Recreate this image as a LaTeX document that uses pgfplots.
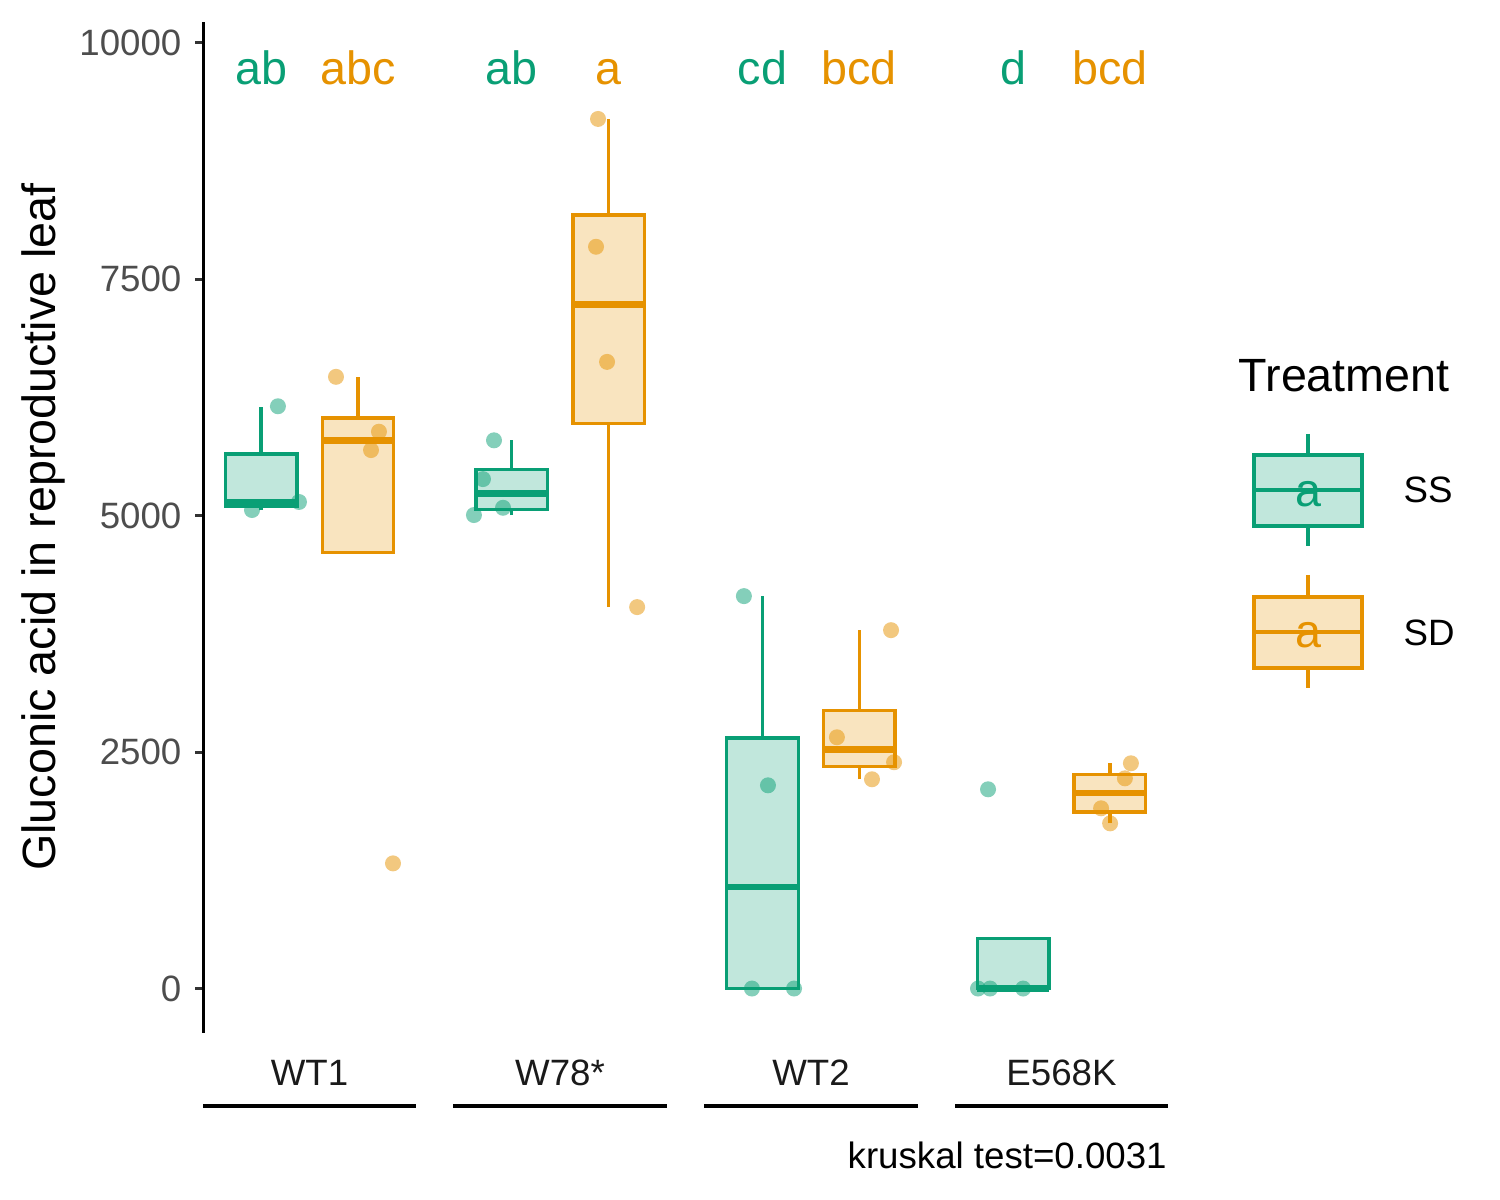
\documentclass[border=0pt]{standalone}
\usepackage{pgfplots}
\pgfplotsset{compat=1.18}
\usepackage{fontspec}
\setmainfont{Liberation Sans}
\definecolor{ssc}{RGB}{9,159,117}
\definecolor{sdc}{RGB}{230,146,0}
\definecolor{ticklab}{RGB}{77,77,77}
\definecolor{tickc}{RGB}{51,51,51}
\definecolor{stripc}{RGB}{26,26,26}
\newcommand{\bigf}{\fontsize{14bp}{16bp}\selectfont}
\newcommand{\smf}{\fontsize{11bp}{13bp}\selectfont}
% box: colour, left, right, centre, lower whisker, Q1, median, Q3, upper whisker
\newcommand{\bx}[9]{%
  \addplot[#1, line width=1bp] coordinates {(#4,#8) (#4,#9)};
  \addplot[#1, line width=1bp] coordinates {(#4,#5) (#4,#6)};
  \addplot[draw=#1, fill=#1, fill opacity=0.25, line width=1bp] coordinates {(#2,#6) (#3,#6) (#3,#8) (#2,#8)} -- cycle;
  \addplot[#1, line width=2bp] coordinates {(#2,#7) (#3,#7)};
}
\begin{document}
\begin{tikzpicture}
\path[use as bounding box] (0,0) rectangle (450bp,360bp);
\begin{axis}[
  at={(60.9bp,50.1bp)}, anchor=south west,
  scale only axis, width=289.5bp, height=303.3bp,
  xmin=0.575, xmax=4.425, ymin=-470, ymax=10217,
  axis x line=none, axis y line=left,
  y axis line style={-, black, line width=0.9bp},
  xtick=\empty,
  ytick={0,2500,5000,7500,10000},
  yticklabels={0,2500,5000,7500,10000},
  scaled y ticks=false,
  tick align=outside, major tick length=2.4bp,
  ytick style={color=tickc, line width=0.9bp},
  yticklabel style={font=\smf, text=ticklab, inner sep=3.9bp},
  clip=false,
]
% jittered points
\addplot[only marks, mark=*, mark size=2.4bp, mark options={draw=ssc, draw opacity=0, fill=ssc, fill opacity=0.5}] coordinates {
(0.874,6155) (0.7705,5058) (0.958,5143)
(1.736,5795) (1.692,5385) (1.656,5005) (1.772,5082)
(2.733,4148) (2.829,2148) (2.765,0) (2.933,0)
(3.667,0) (3.715,0) (3.847,0) (3.707,2106)
};
\addplot[only marks, mark=*, mark size=2.4bp, mark options={draw=sdc, draw opacity=0, fill=sdc, fill opacity=0.5}] coordinates {
(1.1056,6466) (1.277,5886) (1.2453,5692) (1.333,1323)
(2.151,9192) (2.143,7841) (2.187,6624) (2.307,4032)
(3.320,3788) (3.104,2656) (3.332,2392) (3.244,2212)
(4.277,2381) (4.253,2222) (4.158,1905) (4.194,1746)
};
% boxes SS
\bx{ssc}{0.6645}{0.9495}{0.807}{5058}{5100}{5140}{5650}{6150}
\bx{ssc}{1.6645}{1.9495}{1.807}{5005}{5065}{5235}{5490}{5795}
\bx{ssc}{2.6645}{2.9495}{2.807}{0}{0}{1074}{2648}{4148}
\bx{ssc}{3.6645}{3.9495}{3.807}{0}{0}{0}{527}{527}
% boxes SD
\bx{sdc}{1.0505}{1.3355}{1.193}{4610}{4610}{5790}{6030}{6466}
\bx{sdc}{2.0505}{2.3355}{2.193}{4032}{5975}{7230}{8175}{9192}
\bx{sdc}{3.0505}{3.3355}{3.193}{2212}{2347}{2527}{2939}{3788}
\bx{sdc}{4.0505}{4.3355}{4.193}{1746}{1865}{2066}{2262}{2381}
% significance letters
\node[anchor=base, font=\bigf, text=ssc] at (axis cs:0.807,9551) {ab};
\node[anchor=base, font=\bigf, text=sdc] at (axis cs:1.193,9551) {abc};
\node[anchor=base, font=\bigf, text=ssc] at (axis cs:1.807,9551) {ab};
\node[anchor=base, font=\bigf, text=sdc] at (axis cs:2.193,9551) {a};
\node[anchor=base, font=\bigf, text=ssc] at (axis cs:2.807,9551) {cd};
\node[anchor=base, font=\bigf, text=sdc] at (axis cs:3.193,9551) {bcd};
\node[anchor=base, font=\bigf, text=ssc] at (axis cs:3.807,9551) {d};
\node[anchor=base, font=\bigf, text=sdc] at (axis cs:4.193,9551) {bcd};
\end{axis}
% y label
\node[rotate=90, font=\bigf] at (12.9bp,201.9bp) {Gluconic acid in reproductive leaf};
% group strips
\foreach \xc/\xa/\xb/\lab in {92.85/60.9/124.8/WT1, 168/135.9/200.1/W78*, 243.3/211.2/275.4/WT2, 318.45/286.5/350.4/E568K}{
  \node[anchor=base, font=\smf, text=stripc, inner sep=0pt] at (\xc bp,34.5bp) {\lab};
  \draw[black, line width=1bp] (\xa bp,28.2bp) -- (\xb bp,28.2bp);
}
\node[anchor=base east, font=\smf, inner sep=0pt] at (350.2bp,9.6bp) {kruskal test=0.0031};
% legend
\node[anchor=base west, font=\bigf, inner sep=0pt] at (371.4bp,242.4bp) {Treatment};
\draw[ssc, line width=1bp] (392.4bp,229.8bp) -- (392.4bp,196.2bp);
\draw[ssc, line width=1bp, fill=ssc!25] (376.2bp,202.2bp) rectangle (408.6bp,223.5bp);
\draw[ssc, line width=1bp] (376.2bp,213bp) -- (408.6bp,213bp);
\node[anchor=base, font=\bigf, text=ssc, inner sep=0pt] at (392.4bp,207.9bp) {a};
\node[anchor=base west, font=\smf, inner sep=0pt] at (420.9bp,209.1bp) {SS};
\draw[sdc, line width=1bp] (392.4bp,187.5bp) -- (392.4bp,153.6bp);
\draw[sdc, line width=1bp, fill=sdc!25] (376.2bp,159.6bp) rectangle (408.6bp,180.9bp);
\draw[sdc, line width=1bp] (376.2bp,170.4bp) -- (408.6bp,170.4bp);
\node[anchor=base, font=\bigf, text=sdc, inner sep=0pt] at (392.4bp,165.6bp) {a};
\node[anchor=base west, font=\smf, inner sep=0pt] at (420.9bp,166.2bp) {SD};
\end{tikzpicture}
\end{document}
